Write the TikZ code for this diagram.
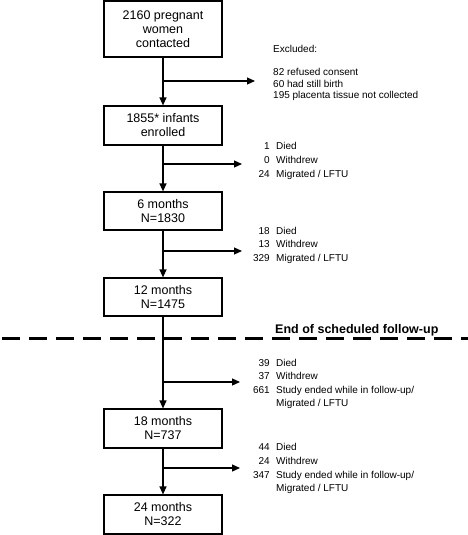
\documentclass[tikz,border=0pt]{standalone}
\usepackage{fontspec}
\setmainfont{Liberation Sans}
\usetikzlibrary{arrows.meta}
\begin{document}
\begin{tikzpicture}[x=1pt,y=-1pt,
 box/.style={draw,line width=1.2pt,minimum width=118pt,inner sep=0pt,align=center,font=\fontsize{12.5}{14}\selectfont},
 flow/.style={line width=1.2pt},
 arr/.style={flow,-{Triangle[length=8pt,width=7pt]}},
 num/.style={anchor=base east,inner sep=0pt,font=\fontsize{10}{12}\selectfont},
 lab/.style={anchor=base west,inner sep=0pt,font=\fontsize{10}{12}\selectfont},
 divider/.style={line width=3pt,dash pattern=on 18pt off 9pt},
]
\useasboundingbox (0,0) rectangle (468,535);
% boxes
\node[box,minimum height=56pt] (b1) at (163,29) {2160 pregnant\\women\\contacted};
\node[box,minimum height=39pt] (b2) at (163,125.5) {1855* infants\\enrolled};
\node[box,minimum height=38pt] (b3) at (163,211) {6 months\\N=1830};
\node[box,minimum height=38pt] (b4) at (163,297) {12 months\\N=1475};
\node[box,minimum height=39pt] (b5) at (163,428.5) {18 months\\N=737};
\node[box,minimum height=39pt] (b6) at (163,514.5) {24 months\\N=322};
% main flow
\draw[arr] (b1) -- (b2);
\draw[arr] (b2) -- (b3);
\draw[arr] (b3) -- (b4);
\draw[arr] (b4) -- (b5);
\draw[arr] (b5) -- (b6);
% branches
\coordinate (j1) at (163,81);  \coordinate (t1) at (255,81);
\coordinate (j2) at (163,164); \coordinate (t2) at (242,164);
\coordinate (j3) at (163,251); \coordinate (t3) at (242,251);
\coordinate (j4) at (163,382); \coordinate (t4) at (240,382);
\coordinate (j5) at (163,468); \coordinate (t5) at (240,468);
\draw[arr] (j1) -- (t1);
\draw[arr] (j2) -- (t2);
\draw[arr] (j3) -- (t3);
\draw[arr] (j4) -- (t4);
\draw[arr] (j5) -- (t5);
% excluded
\node[lab] (ex0) at (273,52.5) {Excluded:};
\node[lab] (ex1) at (273,75.5) {82 refused consent};
\node[lab] (ex2) at (273,87) {60 had still birth};
\node[lab] (ex3) at (273,98.5) {195 placenta tissue not collected};
% group 2
\node[num] (n2a) at (270,149.5) {1};   \node[lab] (l2a) at (276,149.5) {Died};
\node[num] (n2b) at (270,163.5) {0};   \node[lab] (l2b) at (276,163.5) {Withdrew};
\node[num] (n2c) at (270,177) {24};    \node[lab] (l2c) at (276,177) {Migrated / LFTU};
% group 3
\node[num] (n3a) at (270,234) {18};    \node[lab] (l3a) at (276,234) {Died};
\node[num] (n3b) at (270,247.5) {13};  \node[lab] (l3b) at (276,247.5) {Withdrew};
\node[num] (n3c) at (270,261) {329};   \node[lab] (l3c) at (276,261) {Migrated / LFTU};
% divider
\node[anchor=base west,inner sep=0pt,font=\fontsize{12.5}{14}\selectfont\bfseries] (end) at (275,333.5) {End of scheduled follow-up};
\coordinate (dl) at (2,338); \coordinate (dr) at (468,338);
\draw[divider] (dl) -- (dr);
% group 4
\node[num] (n4a) at (270,366.5) {39};  \node[lab] (l4a) at (276,366.5) {Died};
\node[num] (n4b) at (270,379.5) {37};  \node[lab] (l4b) at (276,379.5) {Withdrew};
\node[num] (n4c) at (270,393) {661};   \node[lab] (l4c) at (276,393) {Study ended while in follow-up/};
\node[lab] (l4d) at (276,406.5) {Migrated / LFTU};
% group 5
\node[num] (n5a) at (270,450.5) {44};  \node[lab] (l5a) at (276,450.5) {Died};
\node[num] (n5b) at (270,464.5) {24};  \node[lab] (l5b) at (276,464.5) {Withdrew};
\node[num] (n5c) at (270,478) {347};   \node[lab] (l5c) at (276,478) {Study ended while in follow-up/};
\node[lab] (l5d) at (276,491.5) {Migrated / LFTU};
\end{tikzpicture}
\end{document}
